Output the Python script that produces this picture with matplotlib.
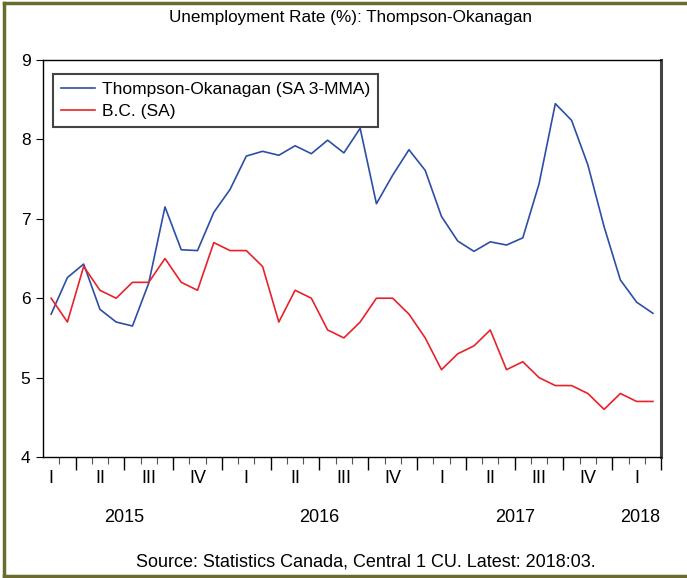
import matplotlib
matplotlib.use("Agg")
import matplotlib.pyplot as plt
from matplotlib.lines import Line2D
from matplotlib.transforms import blended_transform_factory

plt.rcParams['font.family'] = ['Liberation Sans', 'DejaVu Sans']

# monthly data, 2015:01 .. 2018:02
thompson = [5.80, 6.26, 6.43, 5.86, 5.70, 5.65, 6.19, 7.15, 6.61, 6.60, 7.08, 7.37,
            7.79, 7.85, 7.80, 7.92, 7.82, 7.99, 7.83, 8.14, 7.19, 7.55, 7.87, 7.61,
            7.03, 6.72, 6.59, 6.71, 6.67, 6.76, 7.44, 8.45, 8.24, 7.68, 6.90, 6.23,
            5.95, 5.81]
bc = [6.0, 5.7, 6.4, 6.1, 6.0, 6.2, 6.2, 6.5, 6.2, 6.1, 6.7, 6.6,
      6.6, 6.4, 5.7, 6.1, 6.0, 5.6, 5.5, 5.7, 6.0, 6.0, 5.8, 5.5,
      5.1, 5.3, 5.4, 5.6, 5.1, 5.2, 5.0, 4.9, 4.9, 4.8, 4.6, 4.8,
      4.7, 4.7]
quarter_labels = ["I", "II", "III", "IV"] * 3 + ["I"]
years = ["2015", "2016", "2017", "2018"]
year_pos = [4.5, 16.5, 28.5, 36.2]
y_ticks = [4, 5, 6, 7, 8, 9]

blue = "#2d4ea6"
red = "#e8222a"

fig = plt.figure(figsize=(6.87, 5.78), dpi=100)
ax = fig.add_axes([0.0626, 0.2093, 0.8996, 0.6869])

x = list(range(len(thompson)))
ax.plot(x, thompson, color=blue, lw=1.2, label="Thompson-Okanagan (SA 3-MMA)")
ax.plot(x, bc, color=red, lw=1.2, label="B.C. (SA)")

ax.set_xlim(-0.5, len(thompson) - 0.5)
ax.set_ylim(4, 9)
ax.set_yticks(y_ticks)
ax.set_yticklabels([str(v) for v in y_ticks], fontsize=12.5)
ax.tick_params(axis='y', direction='out', length=5, width=0.8, pad=4)

ax.set_xticks([i + 1.5 for i in range(0, len(thompson), 3)])
ax.set_xticks([i + 0.5 for i in range(len(thompson))], minor=True)
ax.tick_params(axis='x', which='major', direction='out', length=9, width=1.0, labelbottom=False)
ax.tick_params(axis='x', which='minor', direction='out', length=5, width=0.8, color="#555555")

for s in ['left', 'bottom', 'top']:
    ax.spines[s].set_linewidth(1.0)
ax.spines['right'].set_linewidth(2.2)
ax.spines['right'].set_color("#444444")

tr = blended_transform_factory(ax.transData, fig.transFigure)
for i, lab in enumerate(quarter_labels):
    fig.text(i * 3, 0.173, lab, transform=tr, ha='center', va='center', fontsize=13)
for p, yr in zip(year_pos, years):
    fig.text(p, 0.1055, yr, transform=tr, ha='center', va='center', fontsize=13)

fig.text(0.51, 0.969, "Unemployment Rate (%): Thompson-Okanagan", ha='center',
         va='center', fontsize=12.3)
fig.text(0.532, 0.027, "Source: Statistics Canada, Central 1 CU. Latest: 2018:03.",
         ha='center', va='center', fontsize=13)

leg = ax.legend(loc='upper left', bbox_to_anchor=(0.016, 0.965), fontsize=12.5,
                frameon=True, fancybox=False, framealpha=1, edgecolor="#444444",
                handlelength=2.0, handletextpad=0.35, borderpad=0.45,
                labelspacing=0.4, borderaxespad=0)
leg.get_frame().set_linewidth(1.5)

olive = "#6b6b2e"
fig.add_artist(Line2D([0.006, 0.006], [0.003, 0.994], transform=fig.transFigure,
                      color=olive, lw=2.5))
fig.add_artist(Line2D([0.006, 1.0], [0.994, 0.994], transform=fig.transFigure,
                      color=olive, lw=2.5))
fig.add_artist(Line2D([0.006, 1.0], [0.003, 0.003], transform=fig.transFigure,
                      color=olive, lw=2.5))

fig.savefig("out.png", dpi=100)
